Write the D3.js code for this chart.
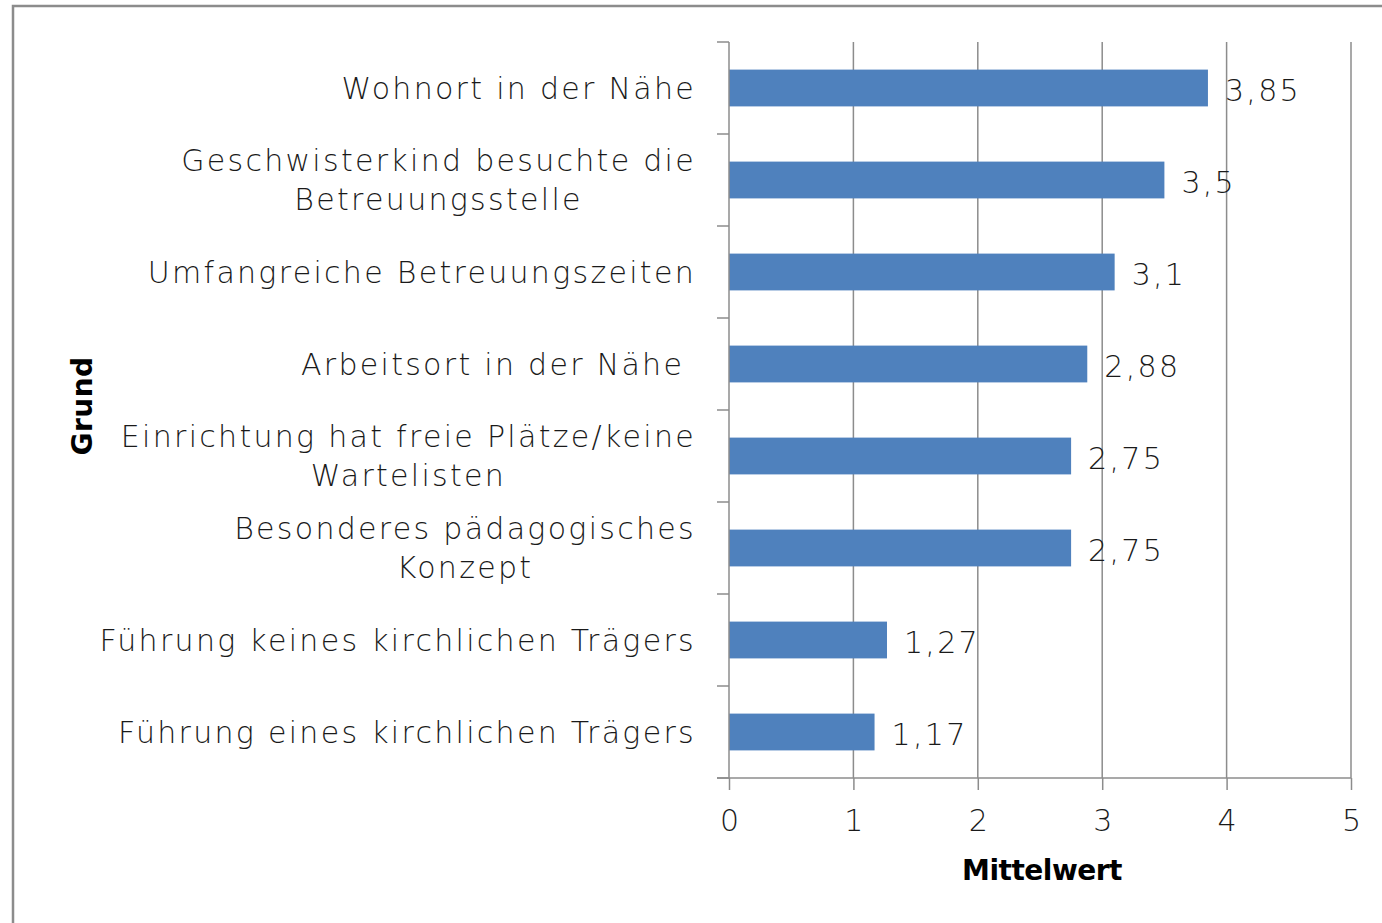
<!DOCTYPE html>
<html>
<head>
<meta charset="utf-8">
<script src="https://cdn.jsdelivr.net/npm/d3@7"></script>
<style>
  body { margin: 0; background: #fff; }
  text { font-family: "DejaVu Sans", sans-serif; fill: #1a1a1a; }
  .lbl { font-size: 30px; font-weight: 200; letter-spacing: 2.3px; }
</style>
</head>
<body>
<div class="chart"></div>
<script>
// Kategorien (von oben nach unten), mehrzeilige Labels mit \n
const categories = [
  'Wohnort in der Nähe',
  'Geschwisterkind besuchte die\nBetreuungsstelle',
  'Umfangreiche Betreuungszeiten',
  'Arbeitsort in der Nähe ',
  'Einrichtung hat freie Plätze/keine\nWartelisten',
  'Besonderes pädagogisches\nKonzept',
  'Führung keines kirchlichen Trägers',
  'Führung eines kirchlichen Trägers'
]
const values = [3.85, 3.5, 3.1, 2.88, 2.75, 2.75, 1.27, 1.17]
const valueLabels = ['3,85', '3,5', '3,1', '2,88', '2,75', '2,75', '1,27', '1,17']
const xTicks = [0, 1, 2, 3, 4, 5]

const W = 1382, H = 923
const margin = {top: 42, right: 31, bottom: 145, left: 729}
const width = W - margin.left - margin.right
const height = H - margin.top - margin.bottom

const root = d3.select('.chart')
  .append('svg')
    .attr('width', W)
    .attr('height', H)

// Rahmen
root.append('rect')
  .attr('x', 13).attr('y', 6)
  .attr('width', W).attr('height', H)
  .attr('fill', 'none')
  .attr('stroke', '#8c8c8c')
  .attr('stroke-width', 2.5)

const svg = root.append('g')
  .attr('transform', `translate(${margin.left}, ${margin.top})`)

const xScale = d3.scaleLinear()
  .domain([0, 5])
  .range([0, width])

const yScale = d3.scaleBand()
  .domain(categories)
  .range([0, height])
  .paddingInner(0.6)
  .paddingOuter(0.3)

// Gitterlinien
svg.selectAll('.grid')
  .data(xTicks.slice(1))
  .enter()
  .append('line')
    .attr('x1', d => xScale(d)).attr('x2', d => xScale(d))
    .attr('y1', 0).attr('y2', height)
    .attr('stroke', '#8c8c8c')
    .attr('stroke-width', 1.5)

// Balken
svg.selectAll('.bar')
  .data(values)
  .enter()
  .append('rect')
    .attr('x', 0)
    .attr('y', (d, i) => yScale(categories[i]))
    .attr('width', d => xScale(d))
    .attr('height', yScale.bandwidth())
    .attr('fill', '#4f81bd')

// Datenbeschriftungen
svg.selectAll('.vlabel')
  .data(values)
  .enter()
  .append('text')
    .attr('class', 'lbl')
    .attr('x', d => xScale(d) + 17)
    .attr('y', (d, i) => yScale(categories[i]) + yScale.bandwidth() / 2 + 2)
    .attr('dy', '0.35em')
    .text((d, i) => valueLabels[i])

// y-Achse (Linie + Ticks an den Bandgrenzen)
const step = yScale.step()
const yAxis = svg.append('g')
yAxis.append('line')
  .attr('x1', 0).attr('x2', 0)
  .attr('y1', 0).attr('y2', height)
  .attr('stroke', '#8c8c8c').attr('stroke-width', 1.5)
yAxis.selectAll('.ytick')
  .data(d3.range(categories.length + 1))
  .enter()
  .append('line')
    .attr('x1', -12).attr('x2', 0)
    .attr('y1', i => i * step).attr('y2', i => i * step)
    .attr('stroke', '#8c8c8c').attr('stroke-width', 1.5)

// Kategorie-Beschriftungen
const labelRight = -33
categories.forEach((c, i) => {
  const lines = c.split('\n')
  const cy = yScale(c) + yScale.bandwidth() / 2
  const lh = 39
  const t = svg.append('text')
    .attr('class', 'lbl')
    .style('white-space', 'pre')
  lines.forEach((l, j) => {
    t.append('tspan')
      .attr('y', cy + (j - (lines.length - 1) / 2) * lh)
      .attr('dy', '0.35em')
      .text(l)
  })
  const maxW = d3.max(t.selectAll('tspan').nodes(), n => n.getComputedTextLength())
  const center = labelRight - maxW / 2
  t.attr('text-anchor', 'middle')
  t.selectAll('tspan').attr('x', center)
})

// x-Achse
const xAxis = d3.axisBottom(xScale)
  .tickValues(xTicks)
  .tickSize(12)
  .tickPadding(20)
  .tickFormat(d => d)

const gx = svg.append('g')
  .attr('transform', `translate(0, ${height})`)
  .call(xAxis)
gx.select('.domain')
  .attr('d', `M-12,0H${width}`)
  .attr('stroke', '#8c8c8c').attr('stroke-width', 1.5)
gx.selectAll('.tick line').attr('stroke', '#8c8c8c').attr('stroke-width', 1.5)
gx.selectAll('.tick text')
  .attr('class', 'lbl')
  .style('font-family', '"DejaVu Sans", sans-serif')
  .style('letter-spacing', '0px')
  .attr('fill', '#1a1a1a')

// Achsentitel
svg.append('text')
  .attr('x', width / 2 + 2)
  .attr('y', height + 102)
  .attr('text-anchor', 'middle')
  .style('font-size', '28px')
  .style('font-weight', 'bold')
  .style('letter-spacing', '-0.5px')
  .style('fill', '#000')
  .text('Mittelwert')

svg.append('text')
  .attr('transform', `translate(${82 - margin.left}, ${height / 2 - 4}) rotate(-90)`)
  .attr('text-anchor', 'middle')
  .attr('dy', '0.35em')
  .style('font-size', '28px')
  .style('font-weight', 'bold')
  .style('letter-spacing', '0.5px')
  .style('fill', '#000')
  .text('Grund')
</script>
</body>
</html>
